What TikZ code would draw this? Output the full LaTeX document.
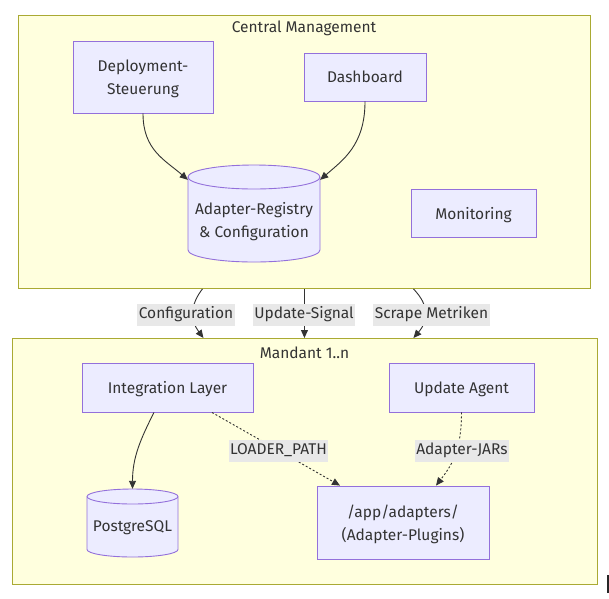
\documentclass[tikz,border=0pt]{standalone}
\usepackage{fontspec}
\setmainfont{Fira Sans}
\usetikzlibrary{arrows.meta}
\definecolor{clfill}{HTML}{FFFFDE}
\definecolor{clline}{HTML}{AAAA33}
\definecolor{ndfill}{HTML}{ECECFF}
\definecolor{ndline}{HTML}{9370DB}
\definecolor{txt}{HTML}{333333}
\definecolor{lblbg}{HTML}{E8E8E8}
\tikzset{
  cluster/.style={draw=clline, fill=clfill, line width=0.9pt, inner sep=0pt},
  title/.style={text=txt, font=\fontsize{15.5}{18}\selectfont, yshift=-1.5pt},
  box/.style={draw=ndline, fill=ndfill, line width=0.9pt, text=txt, align=center,
    font=\fontsize{15.5}{23}\selectfont, inner sep=0pt, text depth=0pt},
  cyl/.style={draw=ndline, fill=ndfill, line width=0.9pt},
  cyltext/.style={text=txt, align=center, font=\fontsize{15.5}{23}\selectfont},
  anchorbox/.style={inner sep=0pt},
  lbl/.style={fill=lblbg, text=txt, font=\fontsize{15.5}{18}\selectfont,
    inner xsep=1.5pt, inner ysep=0pt, minimum height=22pt, yshift=-1.5pt},
  link/.style={draw=txt, line width=0.9pt, -{Triangle[length=8pt,width=7pt]}},
  dotlink/.style={link, dash pattern=on 2pt off 2pt}
}
\begin{document}
\begin{tikzpicture}[x=1pt,y=-1pt]
\useasboundingbox (0,0) rectangle (609,598);
\fill[white] (0,0) rectangle (609,598);

% clusters
\node[cluster, minimum width=572, minimum height=273, anchor=north west] (central) at (18,15) {};
\node[title] (centraltitle) at (304,27) {Central Management};
\node[cluster, minimum width=585, minimum height=246, anchor=north west] (mandant) at (12,338) {};
\node[title] (mandanttitle) at (304.5,351) {Mandant 1..n};

% central nodes
\node[box, minimum width=140, minimum height=72] (dep) at (143,77) {Deployment-\\Steuerung};
\node[box, minimum width=122, minimum height=48] (dash) at (365,77) {Dashboard};
\node[box, minimum width=125, minimum height=48] (mon) at (473.5,213) {Monitoring};

% registry cylinder
\path[cyl] (188,177) -- (188,250)
  .. controls (188,256.6) and (217.5,262) .. (254,262)
  .. controls (290.5,262) and (320,256.6) .. (320,250)
  -- (320,177)
  .. controls (320,170.4) and (290.5,165) .. (254,165)
  .. controls (217.5,165) and (188,170.4) .. (188,177) -- cycle;
\draw[ndline, line width=0.9pt] (188,177)
  .. controls (188,183.6) and (217.5,189) .. (254,189)
  .. controls (290.5,189) and (320,183.6) .. (320,177);
\node[anchorbox, minimum width=132, minimum height=97] (reg) at (254,213.5) {};
\node[cyltext] (regtext) at (254,222) {Adapter-Registry\\\& Configuration};

% mandant nodes
\node[box, minimum width=171, minimum height=49] (il) at (167.5,387.5) {Integration Layer};
\node[box, minimum width=145, minimum height=49] (ua) at (461.5,387.5) {Update Agent};
\node[box, minimum width=172, minimum height=73] (app) at (403,522.5) {/app/adapters/\\(Adapter-Plugins)};

% postgres cylinder
\path[cyl] (87,496.5) -- (87,549.5)
  .. controls (87,553.6) and (107.4,557) .. (132.5,557)
  .. controls (157.6,557) and (178,553.6) .. (178,549.5)
  -- (178,496.5)
  .. controls (178,492.4) and (157.6,489) .. (132.5,489)
  .. controls (107.4,489) and (87,492.4) .. (87,496.5) -- cycle;
\draw[ndline, line width=0.9pt] (87,496.5)
  .. controls (87,500.6) and (107.4,504) .. (132.5,504)
  .. controls (157.6,504) and (178,500.6) .. (178,496.5);
\node[anchorbox, minimum width=91, minimum height=68] (pg) at (132.5,523) {};
\node[cyltext] (pgtext) at (132.5,528) {PostgreSQL};

% edges inside central
\draw[link] (dep.south) .. controls (143,150) and (165,160) .. ([yshift=-15pt]reg.north west);
\draw[link] (dash.south) .. controls (365,145) and (343,160) .. ([yshift=-15pt]reg.north east);

% edges central -> mandant
\draw[link] ([xshift=-102pt]central.south) .. controls (190,305) and (190,320) .. ([xshift=-101.5pt]mandant.north);
\draw[link] (central.south) -- ([xshift=-0.5pt]mandant.north);
\draw[link] ([xshift=109pt]central.south) .. controls (429,305) and (429,320) .. ([xshift=108.5pt]mandant.north);
\node[lbl] (lconf) at (186,313) {Configuration};
\node[lbl] (lupd) at (304,313) {Update-Signal};
\node[lbl] (lscr) at (431.5,313) {Scrape Metriken};

% edges inside mandant
\draw[link] ([xshift=-13.5pt]il.south) .. controls (140,440) and (132.5,458) .. (pg.north);
\draw[dotlink] ([xshift=44.5pt]il.south) -- ([xshift=-63pt]app.north);
\draw[dotlink] (ua.south) .. controls (461.5,450) and (452,465) .. ([xshift=33pt]app.north);
\node[lbl] (lload) at (278.5,449) {LOADER\_PATH};
\node[lbl] (ljar) at (462,449) {Adapter-JARs};

% cursor bar
\fill[black!85] (607,575) rectangle (609,593);
\end{tikzpicture}
\end{document}
